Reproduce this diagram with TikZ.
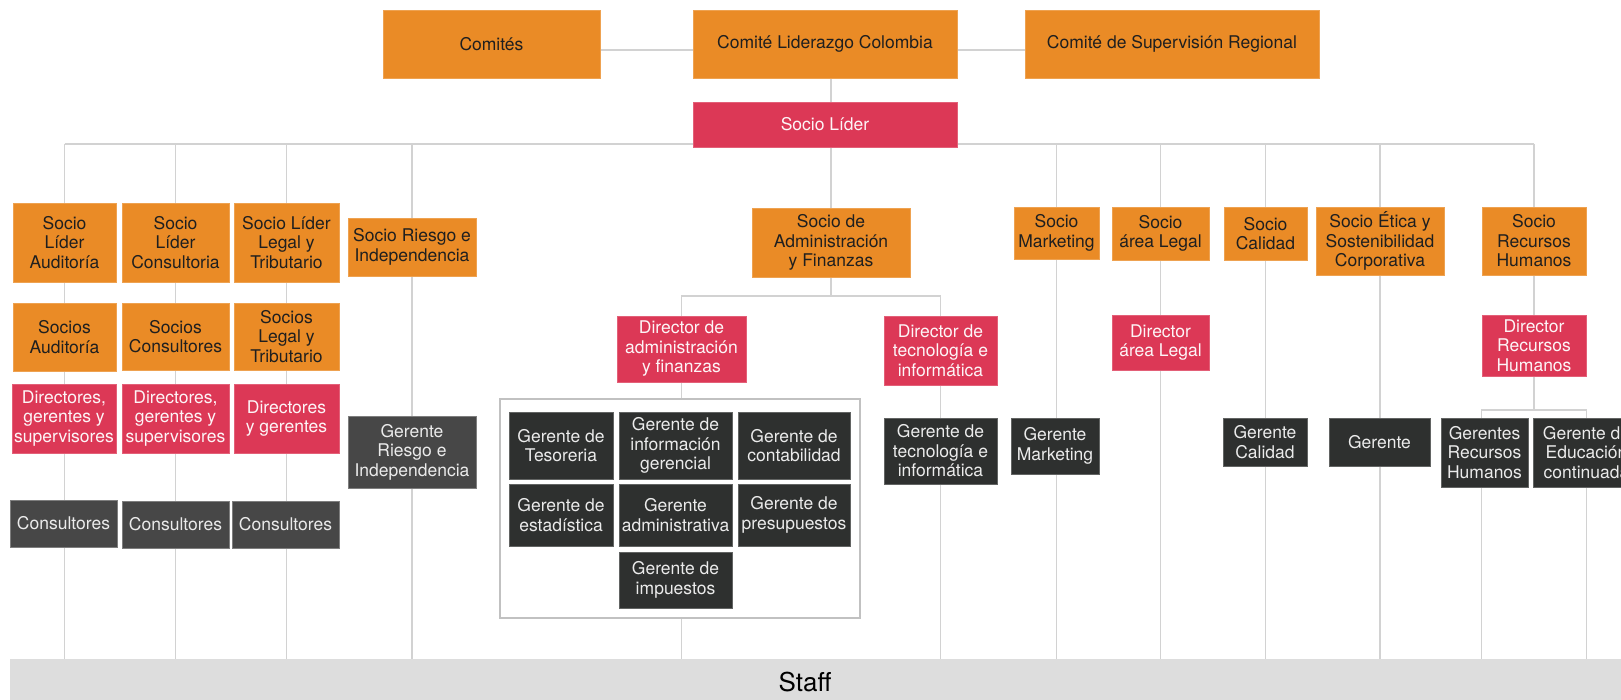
\documentclass[tikz,border=0pt]{standalone}
\usepackage{fontspec}
\setmainfont{TeX Gyre Heros}
\usetikzlibrary{backgrounds}

\definecolor{naranja}{HTML}{EA8B26}
\definecolor{carmin}{HTML}{DC3856}
\definecolor{oscuro}{HTML}{2E302F}
\definecolor{grisosc}{HTML}{474747}
\definecolor{linea}{HTML}{D2D2D2}
\definecolor{franja}{HTML}{DDDDDD}

\begin{document}
\begin{tikzpicture}[x=1pt, y=-1pt,
    caja/.style={rectangle, inner sep=2pt, align=center, font=\fontsize{17.5}{19.5}\selectfont, line width=0.8pt},
    socio/.style={caja, fill=naranja, draw=naranja!80!white, text=black!88},
    direc/.style={caja, fill=carmin, draw=carmin!80!white, text=white!95!carmin},
    geren/.style={caja, fill=oscuro, draw=oscuro!75!white, text=white!92!black},
    consu/.style={caja, fill=grisosc, draw=grisosc!70!white, text=white!92!black},
    ln/.style={draw=linea, line width=1.6pt},
    marco/.style={draw=linea!92!black, line width=1.4pt, fill=white}
]
\useasboundingbox (0,0) rectangle (1621,700);
\clip (0,0) rectangle (1621,700);

% comites
\node[socio, minimum width=217pt, minimum height=68pt] (com) at (491.5,44) {Comités};
\node[socio, minimum width=264pt, minimum height=68pt] (lid) at (825,44) {Comité Liderazgo Colombia};
\node[socio, minimum width=294pt, minimum height=68pt] (sup) at (1172,44) {Comité de Supervisión Regional};
\node[direc, minimum width=264pt, minimum height=45pt] (lider) at (825,124.5) {Socio Líder};

% socios
\node[socio, minimum width=103pt, minimum height=79pt] (sla) at (64.5,242.5) {Socio\\Líder\\Auditoría};
\node[socio, minimum width=107pt, minimum height=79pt] (slc) at (175.5,242.5) {Socio\\Líder\\Consultoria};
\node[socio, minimum width=105pt, minimum height=79pt] (sll) at (286.5,242.5) {Socio Líder\\Legal y\\Tributario};
\node[socio, minimum width=128pt, minimum height=58pt] (sri) at (412,247) {Socio Riesgo e\\Independencia};
\node[socio, minimum width=158pt, minimum height=69pt] (adm) at (831,242.5) {Socio de\\Administración\\y Finanzas};
\node[socio, minimum width=85pt, minimum height=52pt] (smk) at (1056.5,233) {Socio\\Marketing};
\node[socio, minimum width=97pt, minimum height=53pt] (sal) at (1160.5,233.5) {Socio\\área Legal};
\node[socio, minimum width=83pt, minimum height=53pt] (scal) at (1265.5,233.5) {Socio\\Calidad};
\node[socio, minimum width=128pt, minimum height=68pt] (set) at (1380,241) {Socio Ética y\\Sostenibilidad\\Corporativa};
\node[socio, minimum width=104pt, minimum height=68pt] (srh) at (1534,241) {Socio\\Recursos\\Humanos};

% segundo nivel
\node[socio, minimum width=103pt, minimum height=68pt] (spa) at (64.5,337) {Socios\\Auditoría};
\node[socio, minimum width=107pt, minimum height=67pt] (spc) at (175.5,336.5) {Socios\\Consultores};
\node[socio, minimum width=105pt, minimum height=67pt] (spl) at (286.5,336.5) {Socios\\Legal y\\Tributario};
\node[direc, minimum width=129pt, minimum height=66pt] (dad) at (681.5,349) {Director de\\administración\\y finanzas};
\node[direc, minimum width=113pt, minimum height=69pt] (dti) at (940.5,350.5) {Director de\\tecnología e\\informática};
\node[direc, minimum width=97pt, minimum height=55pt] (dal) at (1160.5,342.5) {Director\\área Legal};
\node[direc, minimum width=104pt, minimum height=61pt] (drh) at (1534,345.5) {Director\\Recursos\\Humanos};

% directores y gerentes
\node[direc, minimum width=104pt, minimum height=69pt] (dga) at (64,418.5) {Directores,\\gerentes y\\supervisores};
\node[direc, minimum width=107pt, minimum height=69pt] (dgc) at (175.5,418.5) {Directores,\\gerentes y\\supervisores};
\node[direc, minimum width=105pt, minimum height=69pt] (dgl) at (286.5,418.5) {Directores\\y gerentes};
\node[consu, minimum width=128pt, minimum height=72pt] (gri) at (412,452) {Gerente\\Riesgo e\\Independencia};

\node[marco, minimum width=360pt, minimum height=219pt] (mar) at (680,508.5) {};
\node[geren, minimum width=104pt, minimum height=67pt] (gts) at (561,445.5) {Gerente de\\Tesoreria};
\node[geren, minimum width=113pt, minimum height=67pt] (gig) at (675.5,445.5) {Gerente de\\información\\gerencial};
\node[geren, minimum width=112pt, minimum height=67pt] (gco) at (794,445.5) {Gerente de\\contabilidad};
\node[geren, minimum width=104pt, minimum height=62pt] (ges) at (561,515) {Gerente de\\estadística};
\node[geren, minimum width=113pt, minimum height=62pt] (gad) at (675.5,515) {Gerente\\administrativa};
\node[geren, minimum width=112pt, minimum height=62pt] (gpr) at (794,515) {Gerente de\\presupuestos};
\node[geren, minimum width=113pt, minimum height=56pt] (gim) at (675.5,580) {Gerente de\\impuestos};

\node[geren, minimum width=113pt, minimum height=66pt] (gti) at (940.5,451) {Gerente de\\tecnología e\\informática};
\node[geren, minimum width=88pt, minimum height=56pt] (gmk) at (1055,446) {Gerente\\Marketing};
\node[geren, minimum width=84pt, minimum height=48pt] (gca) at (1265,442) {Gerente\\Calidad};
\node[geren, minimum width=101pt, minimum height=48pt] (gen) at (1379.5,442) {Gerente};
\node[geren, minimum width=87pt, minimum height=69pt] (grh) at (1484.5,452.5) {Gerentes\\Recursos\\Humanos};
\node[geren, minimum width=107pt, minimum height=69pt] (ged) at (1586.5,452.5) {Gerente de\\Educación\\continuada};

% consultores
\node[consu, minimum width=107pt, minimum height=47pt] (cna) at (63.5,523.5) {Consultores};
\node[consu, minimum width=107pt, minimum height=47pt] (cnc) at (175.5,524.5) {Consultores};
\node[consu, minimum width=107pt, minimum height=47pt] (cnl) at (285.5,524.5) {Consultores};

\node[fill=franja, minimum width=1630pt, minimum height=46pt, inner sep=0pt, font=\fontsize{26}{30}\selectfont] (staff) at (825,682) {\hspace*{-40pt}Staff};

\begin{scope}[on background layer]
\coordinate (hb) at (0,144);
\coordinate (af) at (831,296);
\coordinate (rhj) at (1534,410);
\draw[ln] ([yshift=-6pt]com.east) -- ([yshift=-6pt]lid.west);
\draw[ln] ([yshift=-6pt]lid.east) -- ([yshift=-6pt]sup.west);
\draw[ln] (adm.north |- lid.south) -- (adm.north);
\draw[ln] (sla.north |- hb) -- (srh.north |- hb);
\foreach \n in {sla,slc,sll,sri,smk,sal,scal,set}
    \draw[ln] (\n.north |- hb) -- (\n.north |- staff.north);
\draw[ln] (srh.north |- hb) -- (drh.south);
\draw[ln] (drh.south) -- (rhj);
\draw[ln] (srh.south west |- staff.north) |- (rhj) -| (srh.south east |- staff.north);
\draw[ln] (adm.south) -- (af);
\draw[ln] (dad.north) |- (af) -| (dti.north);
\draw[ln] (dad.south) -- (dad.south |- mar.north);
\draw[ln] (mar.south -| dad.south) -- (dad.south |- staff.north);
\draw[ln] (dti.north) -- (dti.north |- staff.north);
\end{scope}
\end{tikzpicture}
\end{document}
